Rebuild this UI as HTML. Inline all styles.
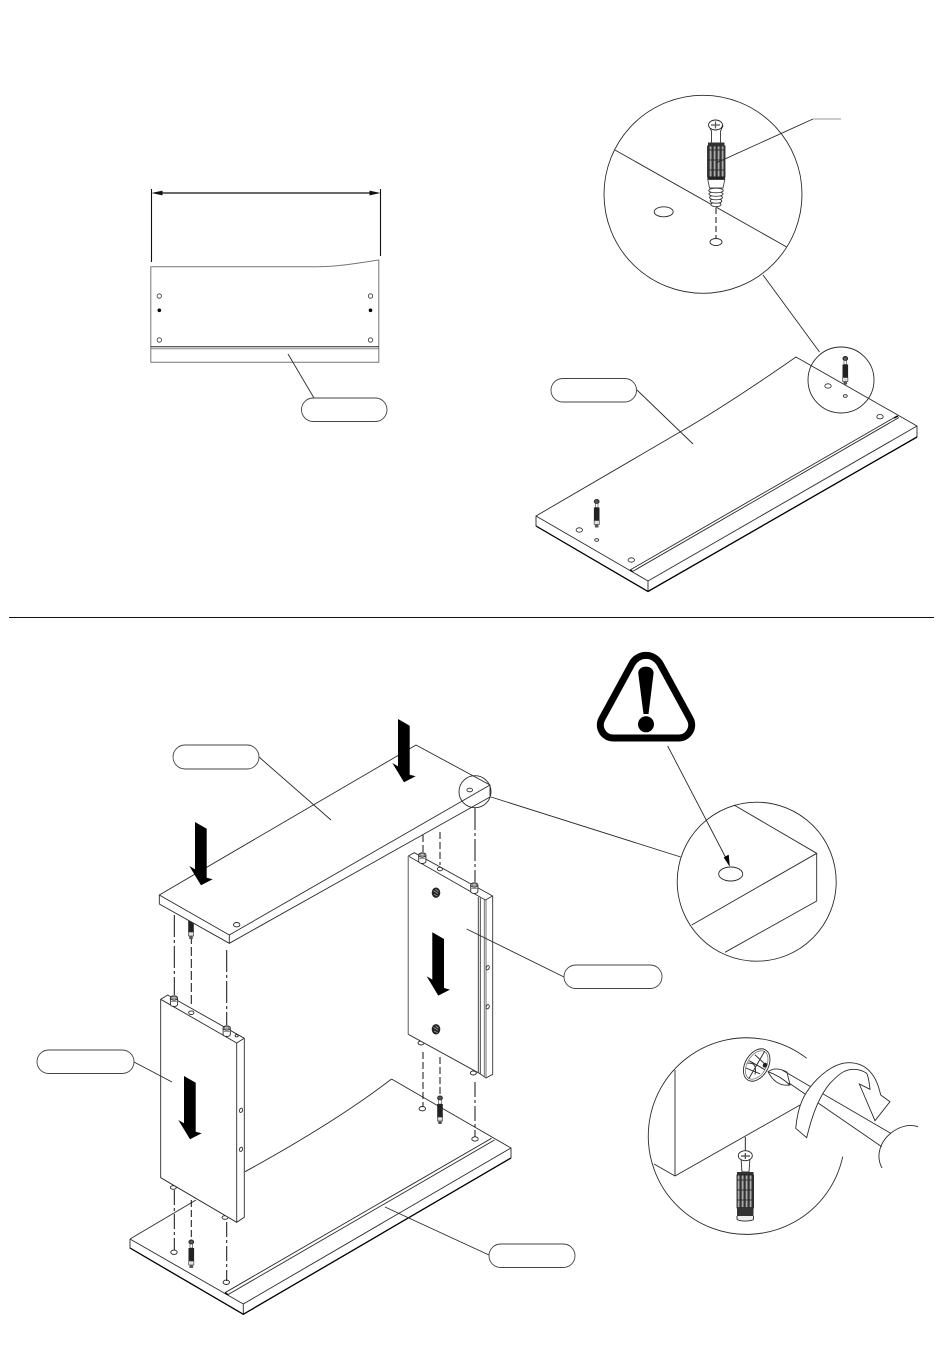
<!DOCTYPE html>
<html><head><meta charset="utf-8"><style>html,body{margin:0;padding:0;background:#fff}svg{display:block}</style></head><body>
<svg width="950" height="1353" viewBox="0 0 950 1353" xmlns="http://www.w3.org/2000/svg" fill="none" stroke="#2a2a2a" stroke-width="0.9">
<defs>
<pattern id="st" width="4" height="10" patternUnits="userSpaceOnUse"><rect width="4" height="10" fill="#aaa"/><rect width="1.200" height="10" fill="#444"/></pattern>
<g id="sm">
<ellipse cx="0" cy="2" rx="2.400" ry="2" fill="#555" stroke="#222"/>
<rect x="-1.300" y="4" width="2.600" height="4" fill="#fff" stroke="#333" stroke-width=".6"/>
<rect x="-2.800" y="8" width="5.600" height="13" fill="#222" stroke="none"/>
<rect x="-2.600" y="21" width="5.200" height="4" fill="#ddd" stroke="#333" stroke-width=".6"/>
<rect x="-1.800" y="25" width="3.600" height="3" fill="#555" stroke="none"/>
</g>
<g id="pin"><path d="M-3.600 0V6.500a3.600 2 0 0 0 7.200 0V0" fill="#fff"/><ellipse cx="0" cy="0" rx="3.600" ry="2.200" fill="#fff"/><ellipse cx="0" cy="-.3" rx="2.400" ry="1.300" fill="#bbb" stroke="#555" stroke-width=".6"/><path d="M-3.600 3.500h7.200" stroke="#888"/></g>
<polygon id="arr" points="0,0 11.700,6.700 11.700,55.700 17.700,57.300 6,63.300 -5.700,44 0,47.300" fill="#000" stroke="none"/>
<g id="cam">
<ellipse cx="0" cy="0" rx="4.300" ry="5.200" fill="#222" stroke="none"/>
<path d="M-2.500 -2L2 1M-2 1.500L1.500 3.500M-.5 -3.500L2.500 -1" stroke="#aaa" stroke-width=".8"/>
</g>
</defs>

<!-- top-left -->
<g>
<path d="M151.500 189V262M380.500 189V256" stroke="#111" stroke-width="1.100"/>
<path d="M155 193H377" stroke="#111" stroke-width="1.200"/>
<path d="M151.500 193l11 -2.400v4.800zM380.500 193l-11 -2.400v4.800z" fill="#111" stroke="none"/>
<path d="M150.800 362.300V266.700H316C338 266.700 358 263 378.800 260V362.300H150.800Z" stroke="#777" stroke-width="1"/>
<path d="M150.800 346.700H378.800" stroke="#222" stroke-width="1"/>
<path d="M150.800 348.700H378.800" stroke="#888" stroke-width="1"/>
<g stroke="#333" stroke-width=".8"><circle cx="159.300" cy="296" r="2.200"/><circle cx="370.500" cy="296" r="2.200"/><circle cx="159.300" cy="340" r="2.200"/><circle cx="370.500" cy="340" r="2.200"/></g>
<circle cx="159.300" cy="310.300" r="1.800" fill="#000" stroke="none"/><circle cx="370.500" cy="310.300" r="1.800" fill="#000" stroke="none"/>
<path d="M288 354L314 398"/>
<rect x="301.500" y="398" width="85.500" height="23.500" rx="11.700" fill="#fff" stroke="#444"/>
</g>

<!-- top-right board -->
<g>
<path d="M536 516L680 432C715 412 760 382 796 357L917 426V437L648 591.500L536 526V516Z" fill="#fff"/>
<path d="M536 516L648 581L917 426M648 581V591.500"/>
<path d="M536 526L648 591.500L917 437" stroke="#000" stroke-width="1.300"/>
<path d="M630 570L897 416M632.500 571.500L899 417.500"/>
<path d="M630 570l2.500 1.500M894 418l4 -2" stroke="#000" stroke-width="1.500"/>
<g stroke-width=".8"><ellipse cx="579.300" cy="530" rx="3.200" ry="2.200"/><ellipse cx="631.300" cy="560" rx="3.200" ry="2.200"/><ellipse cx="880" cy="416.700" rx="3.200" ry="2.200"/><ellipse cx="596.700" cy="540" rx="2" ry="1.300"/><ellipse cx="828" cy="386" rx="3.200" ry="2.200"/><ellipse cx="845.300" cy="396" rx="2" ry="1.300"/></g>
<use href="#sm" x="596.700" y="499.500"/><use href="#sm" x="845.300" y="356.500"/>
<circle cx="841" cy="380" r="33"/>
<path d="M763 275L819.500 352"/>
<rect x="551" y="378.500" width="85.500" height="23.500" rx="11.700" fill="#fff" stroke="#444"/>
<path d="M637 390L693 444"/>
</g>

<!-- big detail circle -->
<g>
<circle cx="703" cy="194.300" r="99"/>
<path d="M615 150L786.700 247"/>
<ellipse cx="663.700" cy="211.800" rx="9.500" ry="5"/>
<ellipse cx="716" cy="242" rx="6" ry="3.500"/>
<path d="M716 208V238" stroke-dasharray="6 3" stroke="#111" stroke-width="1"/>
<path d="M709 126L711.500 131V143H720.500V131L723 126Z" fill="#fff" stroke="#333"/>
<ellipse cx="715.500" cy="125" rx="7" ry="5" fill="#fff"/>
<path d="M711 125h9M715.500 121.500v7" stroke="#555" stroke-width="1.200"/>
<rect x="708" y="142.500" width="16.500" height="3.500" fill="#333" stroke="none"/>
<rect x="707.500" y="146" width="17.500" height="31" fill="url(#st)" stroke="#333"/>
<rect x="707.500" y="176.500" width="17.500" height="3" fill="#222" stroke="none"/>
<path d="M707.800 179.500L709.500 188H723L724.800 179.500Z" fill="#fff" stroke="#444"/>
<g fill="#fff" stroke="#333">
<ellipse cx="716" cy="204.500" rx="5" ry="2.200"/>
<ellipse cx="716" cy="201" rx="5.800" ry="2.200"/>
<ellipse cx="716" cy="197.500" rx="6.500" ry="2.300"/>
<ellipse cx="716" cy="194" rx="7" ry="2.300"/>
<ellipse cx="716" cy="190.500" rx="7.300" ry="2.300"/>
</g>
<path d="M813 119L716.700 162.700"/>
<path d="M813 119H841" stroke="#999" stroke-width="1"/>
</g>

<path d="M9 617.500H934" stroke="#111" stroke-width="1"/>

<!-- warning -->
<g>
<path d="M632.100 663.500A16 16 0 0 1 659.900 663.500L690.100 718.800A13 13 0 0 1 678.700 738L613.300 738A13 13 0 0 1 601.900 718.800Z" fill="#fff" stroke="#000" stroke-width="7"/>
<path d="M638.200 673C638.500 664.500 653.300 664.500 653.600 673L648.500 714H643.500Z" fill="#000" stroke="none"/>
<circle cx="646" cy="724.300" r="8" fill="#000" stroke="none"/>
<path d="M667.700 746L727 860"/>
<path d="M729.500 866L724 857.500L728.500 855Z" fill="#000" stroke="#000" stroke-width=".5"/>
<circle cx="756.700" cy="881.700" r="79.500"/>
<path d="M734 805L816.700 853.300V901L725 952.300M816.700 853.300L691.700 925"/>
<ellipse cx="730.700" cy="874" rx="12" ry="7"/>
<path d="M491 797L680.700 857"/>
</g>

<!-- assembly: bottom board -->
<g>
<path d="M130 1239V1248L243.300 1314.300L511 1158V1148L391.500 1079"/>
<path d="M130 1239L196 1200M130 1239L243.300 1304L511 1148M243.300 1304V1314.300"/>
<path d="M130 1248L243.300 1314.300L511 1158" stroke="#000" stroke-width="1.300"/>
<path d="M245 1171.700C290 1147 345 1115 391.500 1079"/>
<path d="M225 1292.700L491.500 1138.300M228 1294.600L494.500 1140"/>
<path d="M225 1292.700l3 2" stroke="#000" stroke-width="1.500"/>
<ellipse cx="174" cy="1252.300" rx="3.200" ry="2.200"/><ellipse cx="226.300" cy="1282.300" rx="3.200" ry="2.200"/>
<ellipse cx="422.300" cy="1108.700" rx="3.200" ry="2.200"/><ellipse cx="475" cy="1139" rx="3.200" ry="2.200"/>
<use href="#sm" x="191.300" y="1240"/><use href="#sm" x="440" y="1096"/>
</g>

<!-- dash lines -->
<g stroke="#111" stroke-width="1">
<path d="M174.300 915V995M226.700 950V1025" stroke-dasharray="22 3 3 3"/>
<path d="M191.300 935V1007" stroke-dasharray="9 3"/>
<path d="M174.300 1190V1250M226.700 1222V1281" stroke-dasharray="15 3 3 3"/>
<path d="M191.300 1200V1240" stroke-dasharray="7 3"/>
<path d="M423 835V852M440 832V865" stroke-dasharray="7 3"/>
<path d="M475 808V882" stroke-dasharray="22 3 3 3"/>
<path d="M423 1052V1106M440 1057V1097" stroke-dasharray="7 3"/>
<path d="M475 1082V1137" stroke-dasharray="15 3 3 3"/>
</g>
<use href="#sm" x="191" y="911"/>

<!-- left panel -->
<g>
<ellipse cx="173.300" cy="1187.500" rx="3" ry="1.800" fill="#fff"/><ellipse cx="225" cy="1217.500" rx="3" ry="1.800" fill="#fff"/>
<path d="M160.700 999.300L167.700 995L244.300 1038.300V1217.300L236.700 1222.300L160.700 1177.700Z" fill="#fff"/>
<path d="M160.700 999.300L236.700 1043V1222.300M236.700 1043L244.300 1038.300"/>
<use href="#pin" x="174" y="998"/><use href="#pin" x="226.700" y="1028"/>
<ellipse cx="191.300" cy="1012.700" rx="2.600" ry="1.800"/>
<ellipse cx="236.700" cy="1035.700" rx="1.500" ry="1.200"/>
<ellipse cx="241" cy="1110.300" rx="1.500" ry="2.200" transform="rotate(20 241 1110.300)"/>
<ellipse cx="241" cy="1149.300" rx="1.500" ry="2.200" transform="rotate(20 241 1149.300)"/>
<use href="#arr" x="184" y="1076"/>
</g>

<!-- right panel -->
<g>
<ellipse cx="421" cy="1043" rx="3" ry="2" fill="#fff"/><ellipse cx="473.300" cy="1073" rx="3" ry="2" fill="#fff"/>
<path d="M408.300 856L414.300 852.700L492.700 896V1074.300L486 1078L479.300 1073.300L408.300 1034.300Z" fill="#fff" stroke="#333"/>
<path d="M408.300 856L485.300 900L492.700 896M478.300 897V1073M480.300 898V1074.500" stroke="#333"/>
<path d="M484.300 900V1077M486 900V1078" stroke="#666"/>
<path d="M408.300 856V1034.300" stroke="#888" stroke-width="1.200"/>
<use href="#pin" x="422.300" y="855"/><use href="#pin" x="474.300" y="885"/>
<ellipse cx="440" cy="869" rx="2.600" ry="1.800"/>
<use href="#cam" x="436" y="892.700"/><use href="#cam" x="436" y="1029.300"/>
<ellipse cx="487.700" cy="967.700" rx="1.500" ry="2.200" transform="rotate(20 487.700 967.700)"/>
<ellipse cx="487.700" cy="1006.700" rx="1.500" ry="2.200" transform="rotate(20 487.700 1006.700)"/>
<use href="#arr" x="432.300" y="932.300"/>
</g>

<!-- top board -->
<g>
<path d="M159.300 895L416 745L490 785V797L229.300 943.300L159.300 904Z" fill="#fff"/>
<path d="M159.300 895L229.300 935L490 785M229.300 935V943.300"/>
<ellipse cx="236.700" cy="924.700" rx="3.200" ry="2.200"/>
<ellipse cx="469.700" cy="790" rx="2.800" ry="1.800"/>
<circle cx="475" cy="791.700" r="16"/>
<use href="#arr" x="398" y="719"/><use href="#arr" x="195" y="822"/>
</g>

<!-- labels -->
<g>
<path d="M259 757L331 820M134 1062L172 1082M466.700 929L564 977M385 1207L489 1255"/>
<rect x="173" y="745" width="86" height="24" rx="12" fill="#fff" stroke="#444"/>
<rect x="37" y="1050" width="97" height="23.500" rx="11.700" fill="#fff" stroke="#444"/>
<rect x="564" y="965" width="98" height="23.500" rx="11.700" fill="#fff" stroke="#444"/>
<rect x="489" y="1244" width="86" height="23.500" rx="11.700" fill="#fff" stroke="#444"/>
</g>

<!-- bottom right detail -->
<g>
<path d="M806.700 1058.300A98.300 98.300 0 1 0 842.700 1156.700"/>
<path d="M675 1070V1176M654 1164L675 1176L800 1105"/>
<path d="M745.300 1137V1151" stroke="#111"/>
<path d="M741 1158L742 1172H749L750 1158" fill="#fff"/>
<ellipse cx="745.300" cy="1155.700" rx="7" ry="5" fill="#fff"/>
<path d="M741 1156h9M745.300 1153v6" stroke="#444" stroke-width="1.200"/>
<rect x="737" y="1172" width="16.500" height="4" fill="#333" stroke="none"/>
<rect x="737" y="1175" width="16.500" height="33" fill="url(#st)" stroke="#222"/>
<rect x="737" y="1207" width="16.500" height="9" fill="#333" stroke="none"/>
<path d="M737 1216v3a8 2 0 0 0 16.500 0v-3" fill="#eee"/>
<g transform="rotate(30 756.700 1065)">
<ellipse cx="756.700" cy="1065" rx="11.500" ry="17.500" fill="#fff"/>
<ellipse cx="756.700" cy="1065" rx="9.500" ry="15.500" stroke="#666" stroke-width=".7"/>
<path d="M756.700 1049V1081M748 1065H766M750 1057L763 1060M749 1073L764 1071M748 1068q8 -6 12 6" stroke="#333" stroke-width="1"/>
<ellipse cx="764" cy="1061" rx="2.200" ry="2.500" fill="#222" stroke="none"/>
</g>
<path d="M768 1071.700Q776 1066 787 1072.200L790 1085Q776 1087 768 1071.700Z" fill="#fff"/>
<path d="M768 1071.700Q780 1076 790 1085"/>
<path d="M782 1070L890.700 1133.300M789 1083L881.700 1146.700"/>
<path d="M882 1168C875 1155 881 1141 890.700 1133.300C897 1128 908 1123 918 1126.700"/>
<path d="M795.700 1128.300C798 1105 804 1094 813.300 1083.300C825 1070 838 1062.700 848.300 1062.700C860 1062.700 866 1067 870 1071.700C876 1078 878.500 1086 880.700 1095L890 1101.700L875 1120.700L859.300 1084L870 1089.300C869 1080 868 1076 866.700 1073.300C862 1070 858 1069.300 853.300 1069.300C844 1069.300 838 1075 830 1083.300C820 1095 812 1115 806.700 1137.700Z" fill="#fff"/>
</g>
</svg>
</body></html>
